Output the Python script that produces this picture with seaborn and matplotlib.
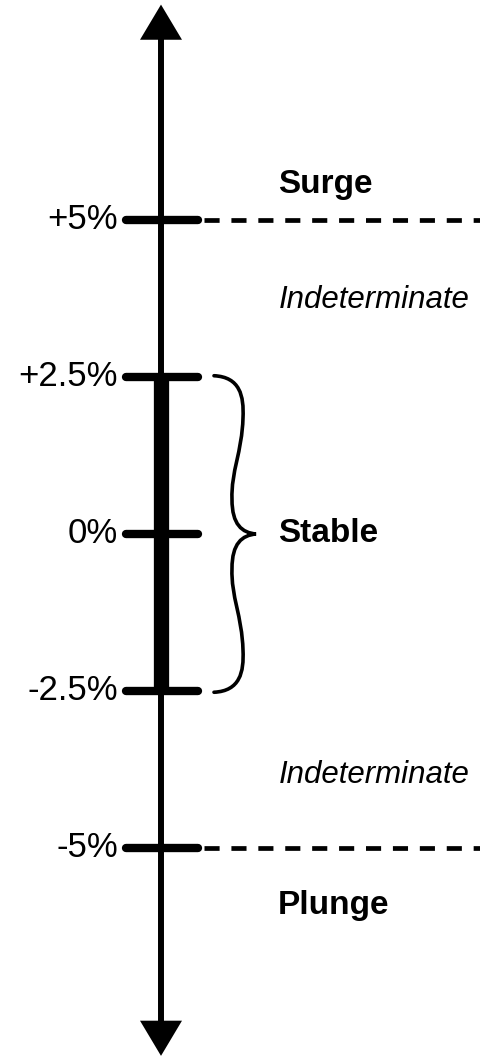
import numpy as np
import pandas as pd
import seaborn as sns
import matplotlib.pyplot as plt
from matplotlib.path import Path
from matplotlib.patches import PathPatch

# Chart data
tick_values = [5, 2.5, 0, -2.5, -5]
tick_labels = ["+5%", "+2.5%", "0%", "-2.5%", "-5%"]
threshold_values = [5, -5]  # dashed lines
stable_range = [-2.5, 2.5]
zone_names = ["Surge", "Indeterminate", "Stable", "Indeterminate", "Plunge"]
zone_y = [5.56, 3.73, 0.0, -3.84, -5.91]
zone_styles = ["bold", "italic", "bold", "italic", "bold"]

sns.set_theme(style="white")
plt.rcParams["font.family"] = ["Liberation Sans", "DejaVu Sans"]

fig = plt.figure(figsize=(4.81, 10.58), dpi=100)
ax = fig.add_axes([0, 0, 1, 1])
ax.set_xlim(0, 481)
ax.set_ylim(-8.344, 8.503)
ax.axis("off")

axis_x = 161

# Main vertical axis
axis_df = pd.DataFrame({"x": [axis_x, axis_x], "y": [-8.0, 8.0]})
sns.lineplot(data=axis_df, x="x", y="y", ax=ax, color="black", linewidth=4.3,
             sort=False, estimator=None, solid_capstyle="butt")

# Arrow heads
head_w, head_l = 21, 0.56
ax.fill([axis_x - head_w, axis_x + head_w, axis_x], [7.87, 7.87, 7.87 + head_l], color="black", lw=0)
ax.fill([axis_x - head_w, axis_x + head_w, axis_x], [-7.75, -7.75, -7.75 - head_l], color="black", lw=0)

# Thick stable bar
stable_df = pd.DataFrame({"x": [axis_x, axis_x], "y": stable_range})
sns.lineplot(data=stable_df, x="x", y="y", ax=ax, color="black", linewidth=11,
             sort=False, estimator=None, solid_capstyle="butt")

# Tick marks and labels
for v, lab in zip(tick_values, tick_labels):
    ax.plot([126, 198], [v, v], color="black", linewidth=6, solid_capstyle="round")
    ax.text(118, v, lab, ha="right", va="center", fontsize=25, color="black")

# Dashed threshold lines
for v in threshold_values:
    ax.plot([204, 495], [v, v], color="black", linewidth=3.4,
            linestyle=(0, (3.2, 2.5)))

# Curly brace for the stable range (S-shaped halves)
def half_brace(s):
    t = stable_range[1] * s
    return [
        (214, t + 0.02 * s), (240, t), (244, t - 0.3 * s), (243, t - 0.65 * s),
        (242, t - 1.2 * s), (231, t - 1.5 * s), (232, 0.55 * s),
        (232, 0.15 * s), (242, 0.02 * s), (256, 0.0),
    ]

top = half_brace(1)
bot = half_brace(-1)[::-1]
verts = top + bot[1:]
codes = [Path.MOVETO] + [Path.CURVE4] * (len(verts) - 1)
ax.add_patch(PathPatch(Path(verts, codes), facecolor="none", edgecolor="black",
                       linewidth=2.6, capstyle="round"))

# Zone labels
for name, y, st in zip(zone_names, zone_y, zone_styles):
    if st == "bold":
        ax.text(278, y, name, ha="left", va="center", fontsize=24,
                fontweight="bold", color="black")
    else:
        ax.text(279, y, name, ha="left", va="center", fontsize=22.5,
                fontstyle="italic", color="black")

fig.savefig("out.png", dpi=100, facecolor="white")
